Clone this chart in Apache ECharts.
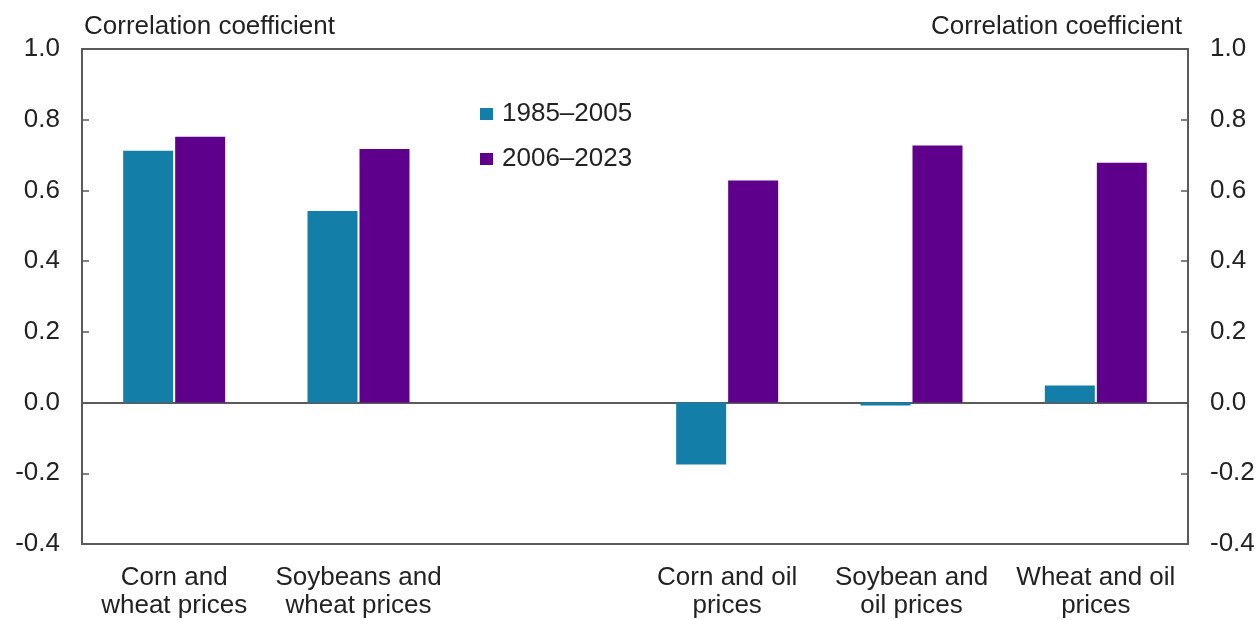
<!DOCTYPE html>
<html>
<head>
<meta charset="utf-8">
<script src="https://cdn.jsdelivr.net/npm/echarts@6/dist/echarts.min.js"></script>
<style>
html,body{margin:0;padding:0;background:#fff;}
#chart{width:1260px;height:620px;}
</style>
</head>
<body>
<div id="chart"></div>
<script>
const categories = ['Corn and\nwheat prices', 'Soybeans and\nwheat prices', '', 'Corn and oil\nprices', 'Soybean and\noil prices', 'Wheat and oil\nprices'];
const seriesNames = ['1985\u20132005', '2006\u20132023'];
const values1985 = [0.712, 0.542, null, -0.175, -0.008, 0.048];
const values2006 = [0.752, 0.717, null, 0.628, 0.727, 0.678];
const axisName = 'Correlation coefficient';

const FONT = 'Liberation Sans, Arial, sans-serif';
const FS = 26;
const AXC = '#5a5a5a';
const TXT = '#222';

const chart = echarts.init(document.getElementById('chart'), null, {renderer: 'canvas'});

function yAx(pos) {
  return {
    type: 'value', position: pos, min: -0.4, max: 1.0, interval: 0.2,
    name: axisName, nameLocation: 'end', nameGap: 9,
    nameTextStyle: {fontFamily: FONT, fontSize: FS, color: TXT,
      align: pos === 'left' ? 'left' : 'right', verticalAlign: 'bottom',
      padding: pos === 'left' ? [0, 0, 0, 2] : [0, 6, 0, 0]},
    axisLine: {show: true, lineStyle: {color: AXC, width: 2}},
    axisTick: {show: true, inside: true, length: 7, lineStyle: {color: AXC, width: 1.5}},
    axisLabel: {fontFamily: FONT, fontSize: FS, color: TXT, margin: 22, formatter: v => v.toFixed(1)},
    splitLine: {show: false}
  };
}

chart.setOption({
  animation: false,
  backgroundColor: '#fff',
  grid: {left: 82, right: 72, top: 49, bottom: 76, show: true, borderColor: AXC, borderWidth: 2, backgroundColor: 'transparent'},
  legend: {
    orient: 'vertical', left: 475, top: 96, itemWidth: 13, itemHeight: 12, itemGap: 19,
    icon: 'rect',
    textStyle: {fontFamily: FONT, fontSize: FS, color: TXT, padding: [0, 0, 0, 4]},
    data: seriesNames
  },
  xAxis: {
    type: 'category', data: categories,
    axisLine: {show: true, onZero: true, lineStyle: {color: AXC, width: 2}},
    axisTick: {show: false},
    axisLabel: {fontFamily: FONT, fontSize: FS, color: TXT, margin: 20, lineHeight: 28, interval: 0}
  },
  yAxis: [yAx('left'), yAx('right')],
  series: [
    {name: seriesNames[0], type: 'bar', data: values1985, barWidth: 50, barGap: '4%',
     itemStyle: {color: '#137FA8'}},
    {name: seriesNames[1], type: 'bar', data: values2006, barWidth: 50, barGap: '4%',
     itemStyle: {color: '#5E008C'}}
  ]
});
</script>
</body>
</html>
